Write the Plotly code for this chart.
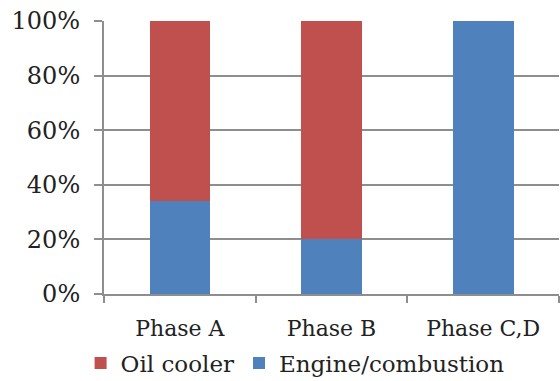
import plotly.graph_objects as go

phases = ["Phase A", "Phase B", "Phase C,D"]
engine = [0.34, 0.20, 1.00]
oil = [0.66, 0.80, 0.00]
y_ticks = [0, 0.2, 0.4, 0.6, 0.8, 1.0]

font_name = "DejaVu Serif"
grid_col = "#8e8e90"

fig = go.Figure()
fig.add_trace(go.Bar(x=phases, y=engine, name="Engine/combustion",
                     marker=dict(color="#4F81BD", line=dict(width=0))))
fig.add_trace(go.Bar(x=phases, y=oil, name="Oil cooler",
                     marker=dict(color="#C0504D", line=dict(width=0))))

fig.update_layout(
    barmode="stack",
    bargap=0.6,
    width=560, height=381,
    margin=dict(l=104, r=1, t=21, b=87, autoexpand=False),
    paper_bgcolor="white",
    plot_bgcolor="white",
    font=dict(family=font_name, size=22, color="#222222"),
    showlegend=True,
    legend=dict(orientation="h", traceorder="reversed",
                x=0.42, xanchor="center", y=-0.253, yanchor="middle",
                font=dict(size=23), itemwidth=30, tracegroupgap=0),
)
fig.update_yaxes(range=[0, 1], tickvals=y_ticks, tickformat=".0%",
                 tickfont=dict(size=24),
                 showgrid=True, gridcolor=grid_col, gridwidth=1.5,
                 showline=True, linecolor=grid_col, linewidth=2,
                 ticks="outside", ticklen=8, tickcolor=grid_col, tickwidth=1.5,
                 ticklabelstandoff=9, zeroline=False)
fig.update_xaxes(showgrid=False, showline=True, linecolor=grid_col, linewidth=2,
                 tickfont=dict(size=22),
                 ticks="outside", ticklen=7, tickcolor=grid_col, tickwidth=1.5,
                 tickson="boundaries", ticklabelstandoff=14)

# page body has an 8px default margin; drop it so the figure fills the window
fig.write_html("out.html", config={"displayModeBar": False},
               post_script="document.body.style.margin='0';")
